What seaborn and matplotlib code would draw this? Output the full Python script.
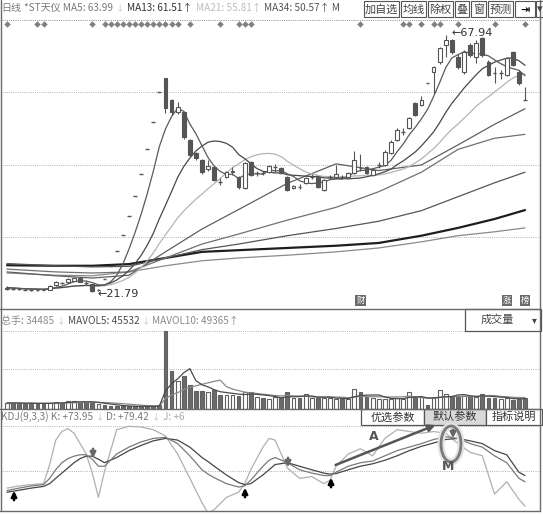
import numpy as np
import pandas as pd
import seaborn as sns
import matplotlib
matplotlib.use("Agg")
import matplotlib.pyplot as plt
from matplotlib.patches import Rectangle, Ellipse

sns.set_theme(style="white")
plt.rcParams['font.family'] = ['Noto Sans CJK SC', 'DejaVu Sans']
plt.rcParams['axes.unicode_minus'] = False

# ---- daily candles ----
opens = [22.3, 22.5, 22.4, 22.3, 22.2, 22.2, 22.2, 22.2, 23.0, 23.4, 23.5, 23.8, 24.3, 23.5, 23.2, 22.0,
         24.1, 26.5, 29.2, 32.0, 35.4, 39.0, 43.0, 47.5, 52.3, 57.7,
         60.2, 56.3, 54.1, 54.1, 49.1, 46.8, 45.5, 43.9, 44.2, 41.7, 42.5, 43.3, 42.4, 40.5, 45.1,
         43.1, 43.2, 43.3, 44.1, 44.1, 42.4, 40.4, 40.7, 41.4, 42.4, 42.4, 40.1, 42.4, 42.4, 42.4,
         42.5, 43.2, 44.1, 44.2, 42.8, 44.5, 44.6, 46.8, 49.1, 50.5, 51.2, 55.7, 55.4, 59.3, 61.3,
         63.0, 66.1, 67.0, 64.0, 61.3, 66.2, 64.0, 67.4, 63.1, 61.3, 61.0, 60.8, 64.9, 61.3, 56.4]
closes = [22.6, 22.4, 22.3, 22.2, 22.2, 22.2, 22.2, 22.9, 23.5, 23.4, 24.1, 24.3, 23.6, 23.4, 22.0, 22.1,
          24.1, 26.5, 29.2, 32.0, 35.4, 39.0, 43.0, 47.5, 52.3, 57.7,
          54.8, 54.1, 55.0, 49.6, 46.4, 45.9, 43.3, 44.4, 41.9, 41.6, 43.3, 43.5, 40.6, 45.0, 42.8,
          43.2, 43.1, 44.4, 44.2, 43.2, 40.1, 40.8, 40.6, 42.3, 42.5, 40.6, 41.9, 42.5, 42.9, 42.4,
          43.2, 45.5, 44.0, 43.2, 43.7, 44.6, 46.9, 48.7, 50.9, 50.6, 53.0, 53.6, 56.3, 59.3, 62.2,
          65.6, 67.1, 64.9, 62.2, 64.9, 64.4, 66.5, 64.4, 60.8, 61.2, 61.1, 63.8, 62.6, 59.3, 56.3]
highs = [22.8, 22.6, 22.5, 22.4, 22.3, 22.4, 22.4, 23.0, 23.7, 23.6, 24.3, 24.5, 24.4, 23.7, 23.3, 22.3,
         24.1, 26.5, 29.2, 32.0, 35.4, 39.0, 43.0, 47.5, 52.3, 57.7,
         60.2, 56.5, 55.9, 54.3, 49.3, 47.0, 45.7, 45.5, 44.4, 42.3, 43.5, 44.2, 42.6, 45.1, 45.3,
         43.6, 43.5, 44.6, 44.8, 44.3, 42.6, 41.0, 41.2, 42.5, 42.9, 42.6, 42.1, 42.8, 44.6, 42.8,
         43.4, 47.1, 46.6, 44.4, 43.9, 45.1, 47.2, 49.0, 51.2, 51.3, 53.3, 55.9, 57.0, 59.3, 62.4,
         65.8, 67.94, 67.2, 64.5, 65.2, 66.5, 67.1, 67.6, 63.5, 62.2, 61.7, 64.0, 65.1, 61.7, 58.6]
lows = [22.2, 22.2, 22.2, 22.1, 21.9, 22.0, 22.1, 22.1, 22.9, 23.2, 23.4, 23.7, 23.5, 23.0, 21.79, 21.9,
        24.1, 26.5, 29.2, 32.0, 35.4, 39.0, 43.0, 47.5, 52.3, 57.7,
        53.9, 53.6, 53.8, 49.3, 46.0, 45.5, 43.0, 43.6, 41.7, 41.0, 42.3, 42.8, 40.3, 40.3, 42.6,
        42.6, 42.8, 43.1, 43.4, 43.0, 39.9, 40.2, 40.2, 41.2, 42.0, 40.4, 39.9, 42.0, 42.2, 42.0,
        42.3, 43.0, 43.5, 43.0, 42.6, 44.0, 44.4, 46.6, 48.9, 49.9, 51.0, 53.4, 55.2, 59.3, 57.5,
        62.8, 64.0, 64.5, 61.8, 61.0, 63.9, 62.9, 64.0, 60.5, 59.3, 60.0, 60.5, 62.4, 59.0, 56.3]
volumes = [28200, 28200, 28200, 23500, 28200, 23500, 28200, 28200, 32900, 28200, 37600, 37600, 32900,
           32900, 28200, 23500, 18800, 14100, 14100, 11800, 11800, 11800, 11800, 14100, 14100, 16500,
           366600, 178600, 131600, 155100, 112800, 84600, 84600, 79900, 89300, 65800,
           65800, 65800, 61100, 79900, 79900, 56400, 51700, 47000, 56400, 51700,
           79900, 51700, 51700, 70500, 51700, 51700, 51700, 51700, 47000, 47000,
           47000, 94000, 79900, 56400, 51700, 47000, 47000, 47000, 51700, 47000,
           79900, 56400, 56400, 18800, 51700, 89300, 70500, 61100, 56400, 61100,
           61100, 56400, 70500, 51700, 51700, 47000, 51700, 42300, 47000, 51700]

# long moving averages, read at a few days
ma_long_idx = [0, 8, 14, 20, 26, 32, 38, 46, 54, 61, 68, 74, 80, 85]
ma34 = [25.4, 24.7, 24.3, 24.8, 29.0, 33.1, 36.6, 41.3, 44.8, 43.6, 44.6, 48.2, 51.9, 54.7]
ma55 = [25.9, 25.4, 25.2, 25.4, 27.9, 30.4, 32.2, 34.7, 37.0, 39.8, 43.3, 47.4, 49.4, 50.1]
ma89 = [26.9, 26.5, 26.3, 26.4, 27.9, 29.4, 30.4, 31.9, 33.2, 34.5, 36.4, 38.9, 41.4, 43.3]
ma144 = [26.6, 26.5, 26.5, 26.8, 27.9, 29.0, 29.3, 29.7, 30.1, 30.6, 31.9, 33.3, 34.9, 36.5]
ma233 = [25.2, 24.8, 24.7, 25.4, 26.5, 27.4, 27.9, 28.4, 29.0, 29.7, 30.8, 31.9, 32.6, 33.3]

# KDJ(9,3,3), read at a few days
kdj_idx = [0, 2, 4, 6, 7, 8, 9, 10, 11, 12, 13, 14, 15, 16, 18, 20, 22, 24, 26, 28, 30, 32,
           33, 34, 36, 38, 39, 40, 42, 43, 44, 46, 48, 50, 52, 53, 54,
           56, 58, 60, 62, 64, 66, 68, 70, 72, 74, 76, 78, 80, 82, 84, 85]
k_vals = [37.5, 39.1, 40.5, 41.4, 45.5, 51.1, 55.7, 58.4, 60.0, 60.9, 60.9, 58.0, 53.4, 53.4,
          61.4, 65.9, 69.3, 71.6, 72.3, 68.2, 60.2, 51.1, 48.2, 45.9, 42.0, 39.8, 40.5, 44.3,
          53.4, 57.3, 59.1, 55.7, 51.1, 48.9, 47.3, 47.3, 49.5,
          53.4, 55.7, 56.8, 60.2, 63.6, 65.9, 68.2, 70.9, 72.7, 71.6, 68.2, 65.9, 60.2, 55.7, 45.5, 43.2]
d_vals = [36.4, 37.7, 39.1, 40.2, 42.0, 45.5, 48.9, 52.3, 55.7, 58.4, 60.0, 60.0, 58.0, 55.7,
          59.1, 63.6, 67.0, 70.0, 71.6, 70.5, 65.9, 59.1, 56.4, 53.4, 47.7, 42.7, 41.4, 42.0,
          47.7, 51.1, 54.5, 55.7, 53.4, 51.1, 48.9, 48.2, 48.6,
          51.1, 53.4, 55.0, 57.3, 60.2, 63.6, 66.4, 68.6, 70.9, 71.6, 70.0, 68.2, 63.6, 60.9, 49.5, 47.3]
j_vals = [39.1, 40.5, 41.4, 42.0, 54.5, 70.5, 76.1, 78.0, 75.0, 68.2, 61.4, 48.9, 33.0, 50.0,
          77.3, 79.5, 79.1, 77.3, 73.2, 61.4, 45.5, 29.5, 22.7, 25.0, 33.0, 36.4, 42.0, 51.1,
          65.9, 71.6, 70.5, 52.3, 45.5, 46.6, 42.0, 44.3, 53.4,
          61.4, 64.8, 60.2, 71.6, 77.3, 76.1, 75.0, 76.1, 75.0, 68.2, 62.5, 60.2, 35.2, 43.2, 31.8, 27.3]

info_days = [0, 5, 6, 14, 16, 17, 18, 19, 20, 21, 22, 23, 24, 25, 26, 27, 28, 30, 35, 38, 39, 40,
             58, 65, 66, 68, 70, 71, 74, 80, 85]
tag_days = [58, 82, 85]
tag_text = ['财', '涨', '榜']

# ---- frame ----
df = pd.DataFrame({'day': np.arange(len(closes)), 'open': opens, 'close': closes,
                   'high': highs, 'low': lows, 'vol': volumes})
for n in (5, 13, 21):
    df[f'ma{n}'] = df['close'].rolling(n, min_periods=1).mean()
df['mavol5'] = df['vol'].rolling(5, min_periods=1).mean()
df['mavol10'] = df['vol'].rolling(10, min_periods=1).mean()

W, H = 543, 515
fig = plt.figure(figsize=(W / 100, H / 100), dpi=100)
fig.patch.set_facecolor('white')


def px_rect(x0, y0, x1, y1):
    return [x0 / W, 1 - y1 / H, (x1 - x0) / W, (y1 - y0) / H]


ax_p = fig.add_axes(px_rect(2, 18, 540, 309))
ax_v = fig.add_axes(px_rect(2, 330, 540, 409))
ax_k = fig.add_axes(px_rect(2, 408, 540, 511))
XLIM = (-0.82, 87.46)
dot = (0, (1, 1.6))
GRAY = '#555555'

for ax in (ax_p, ax_v, ax_k):
    ax.set_facecolor('none')
    ax.set_xlim(*XLIM)
    ax.set_xticks([])
    ax.set_yticks([])
    for s in ax.spines.values():
        s.set_visible(False)

# price panel
ax_p.set_ylim(18.74, 70.99)
for g in (31.7, 44.6, 57.7, 70.6):
    ax_p.axhline(g, color='#9a9a9a', lw=0.6, ls=dot, zorder=0)

body_w = 0.62
for r in df.itertuples():
    ax_p.vlines(r.day, r.low, r.high, color=GRAY, lw=0.8, zorder=3)
    if abs(r.close - r.open) < 0.15:
        ax_p.hlines(r.close, r.day - body_w / 2, r.day + body_w / 2, color=GRAY, lw=1.0, zorder=4)
    else:
        fc = 'white' if r.close > r.open else GRAY
        ax_p.add_patch(Rectangle((r.day - body_w / 2, min(r.open, r.close)), body_w,
                                 abs(r.close - r.open), facecolor=fc, edgecolor=GRAY,
                                 lw=0.8, zorder=4))

sns.lineplot(x=ma_long_idx, y=ma233, ax=ax_p, color='#8a8a8a', lw=0.9, estimator=None, zorder=2)
sns.lineplot(x=ma_long_idx, y=ma144, ax=ax_p, color='#1e1e1e', lw=1.6, estimator=None, zorder=2)
sns.lineplot(x=ma_long_idx, y=ma89, ax=ax_p, color='#555555', lw=0.9, estimator=None, zorder=2)
sns.lineplot(x=ma_long_idx, y=ma55, ax=ax_p, color='#707070', lw=0.9, estimator=None, zorder=2)
sns.lineplot(x=ma_long_idx, y=ma34, ax=ax_p, color='#606060', lw=0.9, estimator=None, zorder=2)
sns.lineplot(data=df, x='day', y='ma21', ax=ax_p, color='#b4b4b4', lw=0.9, zorder=2)
sns.lineplot(data=df, x='day', y='ma13', ax=ax_p, color='#484848', lw=0.9, zorder=2)
sns.lineplot(data=df, x='day', y='ma5', ax=ax_p, color='#5a5a5a', lw=0.9, zorder=2)

sns.scatterplot(x=info_days, y=[69.9] * len(info_days), ax=ax_p, marker='D', s=11,
                color='#808080', linewidth=0, zorder=5)
low_day = int(np.argmin(lows))
high_day = int(np.argmax(highs))
ax_p.text(low_day + 0.9, lows[low_day] - 0.3, f'←{lows[low_day]:.2f}', fontsize=8,
          color='#333333', va='center', ha='left', family=['DejaVu Sans'])
ax_p.text(high_day + 1.0, highs[high_day] + 0.35, f'←{highs[high_day]:.2f}', fontsize=8,
          color='#333333', va='center', ha='left', family=['DejaVu Sans'])
for d, t in zip(tag_days, tag_text):
    ax_p.text(d, 20.35, t, fontsize=6, color='white', ha='center', va='center',
              bbox=dict(boxstyle='square,pad=0.12', fc='#6a6a6a', ec='none'))
ax_p.set_xlabel('')
ax_p.set_ylabel('')

# volume panel
VMAX = 370000
ax_v.set_ylim(0, VMAX)
for frac in (0.506, 0.987):
    ax_v.axhline(VMAX * frac, color='#9a9a9a', lw=0.6, ls=dot, zorder=0)
for r in df.itertuples():
    fc = 'white' if r.close > r.open else '#6a6a6a'
    ax_v.add_patch(Rectangle((r.day - body_w / 2, 0), body_w, r.vol, facecolor=fc,
                             edgecolor='#606060', lw=0.8, zorder=3))
sns.lineplot(data=df, x='day', y='mavol10', ax=ax_v, color='#8a8a8a', lw=0.9, zorder=4)
sns.lineplot(data=df, x='day', y='mavol5', ax=ax_v, color='#4a4a4a', lw=0.9, zorder=4)
ax_v.set_xlabel('')
ax_v.set_ylabel('')

# KDJ panel
ax_k.set_ylim(24.1, 91.5)
for g in (50, 80):
    ax_k.axhline(g, color='#9a9a9a', lw=0.6, ls=dot, zorder=0)
sns.lineplot(x=kdj_idx, y=j_vals, ax=ax_k, color='#b0b0b0', lw=0.9, estimator=None)
sns.lineplot(x=kdj_idx, y=d_vals, ax=ax_k, color='#454545', lw=0.9, estimator=None)
sns.lineplot(x=kdj_idx, y=k_vals, ax=ax_k, color='#7a7a7a', lw=0.9, estimator=None)
ax_k.set_xlabel('')
ax_k.set_ylabel('')

# ---- overlay in pixel coordinates: frame, headers, buttons, marks ----
ov = fig.add_axes([0, 0, 1, 1])
ov.set_xlim(0, W)
ov.set_ylim(H, 0)
ov.axis('off')
renderer = fig.canvas.get_renderer()


def chain(x, y, parts, gap=2.5):
    # lay text pieces one after another along a header row
    for txt, color, size in parts:
        t = ov.text(x, y, txt, fontsize=size, color=color, va='center', ha='left')
        x += t.get_window_extent(renderer=renderer).width + gap


fc_line = '#6a6a6a'
ov.plot([1, 1], [0, 511], color=fc_line, lw=1)
ov.plot([540, 540], [0, 511], color=fc_line, lw=1)
ov.plot([0, 540], [309, 309], color=fc_line, lw=1)
ov.plot([0, 540], [408.5, 408.5], color=fc_line, lw=1)
ov.plot([0, 540], [511, 511], color=fc_line, lw=1)
ov.plot([0, 540], [20, 20], color='#9a9a9a', lw=0.6, ls=dot)

fs = 7.2
chain(1, 8, [('日线', '#7a7a7a', fs), ('*ST天仪 MA5: 63.99', '#7a7a7a', fs),
             ('↓', '#c0c0c0', 6), ('MA13: 61.51↑', '#333333', fs),
             ('MA21: 55.81↑', '#bdbdbd', fs), ('MA34: 50.57↑ M', '#555555', fs)], gap=3)

buttons = [('加自选', 364, 399), ('均线', 401, 426), ('除权', 428, 453), ('叠', 455, 469),
           ('窗', 471, 486), ('预测', 488, 513), ('⇥', 515, 535), ('▾', 536, 543)]
for label, x0, x1 in buttons:
    ov.add_patch(Rectangle((x0, 1), x1 - x0, 16, fc='white', ec='#555555', lw=0.8))
    bold = label == '⇥'
    ov.text((x0 + x1) / 2, 9.5, label, fontsize=8, color='#111111' if bold else '#444444',
            ha='center', va='center', fontweight='bold' if bold else 'normal')

chain(1, 321, [('总手: 34485', '#8a8a8a', fs), ('↓', '#c0c0c0', 6),
               ('MAVOL5: 45532', '#4a4a4a', fs), ('↓', '#c0c0c0', 6),
               ('MAVOL10: 49365↑', '#8a8a8a', fs)])
ov.add_patch(Rectangle((465, 309), 76, 22, fc='white', ec='#555555', lw=0.9))
ov.text(497, 320, '成交量', fontsize=8, color='#444444', ha='center', va='center')
ov.text(534, 320, '▾', fontsize=7, color='#444444', ha='center', va='center')

chain(1, 417, [('KDJ(9,3,3) K: +73.95', '#7a7a7a', fs), ('↓', '#c0c0c0', 6),
               ('D: +79.42', '#7a7a7a', fs), ('↓', '#c0c0c0', 6),
               ('J: +6', '#a8a8a8', fs)])
for label, x0, x1, fill in [('优选参数', 361, 424, 'white'), ('默认参数', 424, 486, '#d9d9d9'),
                            ('指标说明', 486, 542, 'white')]:
    ov.add_patch(Rectangle((x0, 409), x1 - x0, 16, fc=fill, ec='#555555', lw=0.9))
    ov.text((x0 + x1) / 2, 417, label, fontsize=8, color='#333333', ha='center', va='center')

# hand-drawn marks on the KDJ panel
for x, y0, y1 in [(14, 503, 488), (245, 500, 485), (331, 490, 475)]:
    ov.annotate('', xy=(x, y1), xytext=(x, y0),
                arrowprops=dict(arrowstyle='-|>', color='black', lw=1.8, mutation_scale=8))
for x, y0, y1 in [(93, 446, 461), (288, 455, 470), (453, 427, 441)]:
    ov.annotate('', xy=(x, y1), xytext=(x, y0),
                arrowprops=dict(arrowstyle='-|>', color='#666666', lw=1.8, mutation_scale=8))
ov.annotate('', xy=(438, 424), xytext=(333, 466),
            arrowprops=dict(arrowstyle='-|>', color='#555555', lw=1.8, mutation_scale=10))
ov.add_patch(Ellipse((451, 444), 20, 36, fill=False, ec='#e2e2e2', lw=5))
ov.add_patch(Ellipse((451, 444), 20, 36, fill=False, ec='#7a7a7a', lw=2))
ov.text(374, 436, 'A', fontsize=9, fontweight='bold', color='#555555', ha='center', va='center',
        family=['DejaVu Sans'])
ov.text(448, 467, 'M', fontsize=9, fontweight='bold', color='#555555', ha='center', va='center',
        family=['DejaVu Sans'])

fig.savefig('out.png', dpi=100, facecolor='white')
